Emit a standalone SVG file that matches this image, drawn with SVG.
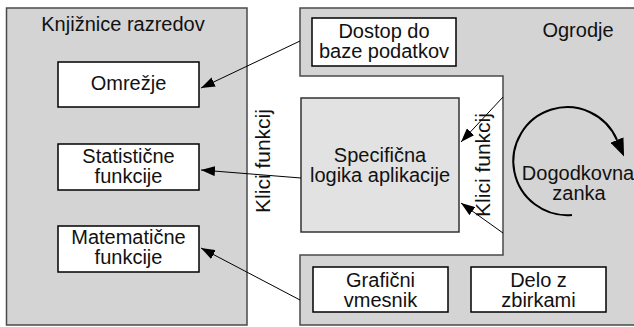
<svg xmlns="http://www.w3.org/2000/svg" width="634" height="327" viewBox="0 0 634 327">
<defs>
<marker id="ah" markerUnits="userSpaceOnUse" markerWidth="14" markerHeight="10" refX="14" refY="5" orient="auto"><path d="M0,0 L14,5 L0,10 z" fill="#000"/></marker>
<marker id="ahbig" markerUnits="userSpaceOnUse" markerWidth="18" markerHeight="14" refX="0" refY="7" orient="auto"><path d="M0,0 L18,7 L0,14 z" fill="#000"/></marker>
<style>
text{font-family:"Liberation Sans",Arial,Helvetica,sans-serif;font-size:20px;fill:#111;text-anchor:middle}
.panel{fill:#d4d4d4;stroke:#4a4a4a;stroke-width:1.5}
.box{fill:#fff;stroke:#000;stroke-width:1.5}
.app{fill:#e2e2e2;stroke:#333;stroke-width:1.5}
.conn{stroke:#000;stroke-width:1;fill:none;marker-end:url(#ah)}
.rot{font-size:21px}
</style>
</defs>
<g id="knjiznice">
<rect class="panel" x="6.5" y="8" width="240.5" height="317"/>
<text x="123" y="31">Knjižnice razredov</text>
</g>
<g id="ogrodje">
<path class="panel" d="M640,8 L300,8 L300,76 L503,76 L503,255 L300,255 L300,325 L640,325"/>
<text x="578" y="37">Ogrodje</text>
</g>
<g id="omrezje">
<rect class="box" x="58" y="62" width="141" height="45"/>
<text x="128.5" y="90">Omrežje</text>
</g>
<g id="statisticne">
<rect class="box" x="58" y="144" width="141" height="46"/>
<text x="128.5" y="163">Statistične</text>
<text x="128.5" y="183">funkcije</text>
</g>
<g id="matematicne">
<rect class="box" x="58" y="226" width="141" height="46"/>
<text x="128.5" y="244">Matematične</text>
<text x="128.5" y="264">funkcije</text>
</g>
<g id="dostop">
<rect class="box" x="312" y="18" width="144" height="48"/>
<text x="384" y="38">Dostop do</text>
<text x="384" y="58">baze podatkov</text>
</g>
<g id="specificna">
<rect class="app" x="301" y="98" width="158" height="134"/>
<text x="380" y="162">Specifična</text>
<text x="380" y="182">logika aplikacije</text>
</g>
<g id="graficni">
<rect class="box" x="313" y="267" width="135" height="45"/>
<text x="380.5" y="287">Grafični</text>
<text x="380.5" y="307">vmesnik</text>
</g>
<g id="delo">
<rect class="box" x="471" y="267" width="135" height="45"/>
<text x="538.5" y="287">Delo z</text>
<text x="538.5" y="307">zbirkami</text>
</g>
<g id="zanka">
<path d="M572,215 A54,54 0 1 1 617,140" fill="none" stroke="#000" stroke-width="2" marker-end="url(#ahbig)"/>
<text x="578" y="180">Dogodkovna</text>
<text x="579" y="200">zanka</text>
</g>
<g id="connectors">
<line class="conn" x1="300" y1="41" x2="201" y2="88"/>
<line class="conn" x1="301" y1="178" x2="201" y2="170"/>
<line class="conn" x1="300" y1="300" x2="201" y2="248"/>
<line class="conn" x1="503" y1="97" x2="461" y2="142"/>
<line class="conn" x1="503" y1="233" x2="461" y2="203"/>
</g>
<g id="labels">
<text class="rot" transform="translate(270,161) rotate(-90)">Klici funkcij</text>
<text class="rot" transform="translate(490,165) rotate(-90)">Klici funkcij</text>
</g>
</svg>
